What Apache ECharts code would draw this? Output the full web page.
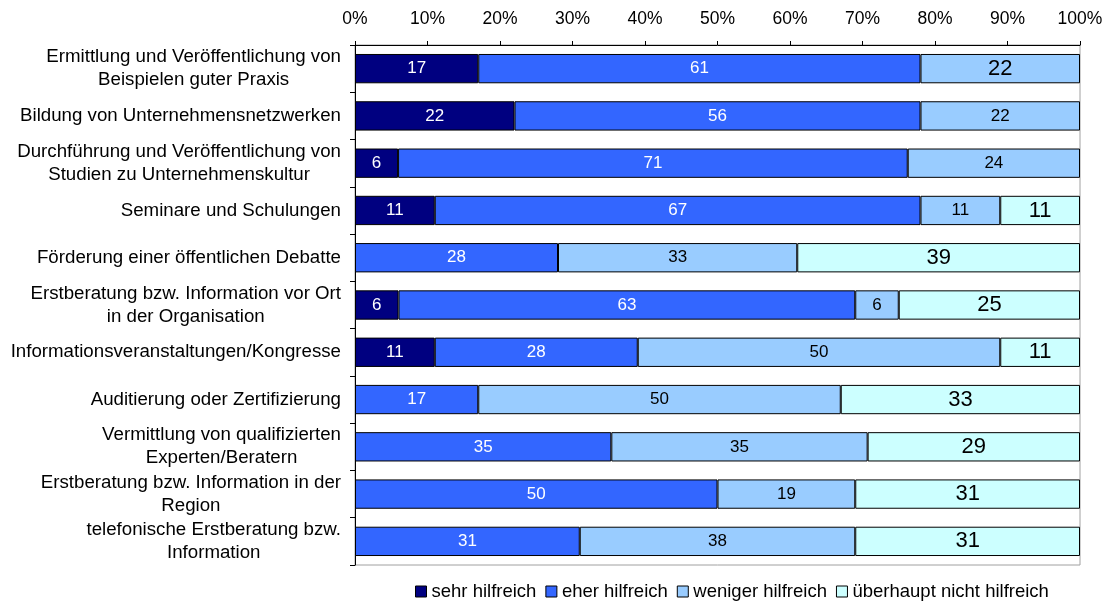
<!DOCTYPE html>
<html><head><meta charset="utf-8">
<script src="https://cdn.jsdelivr.net/npm/echarts@6/dist/echarts.min.js"></script>
<style>html,body{margin:0;padding:0;background:#fff}#c{width:1110px;height:603px}</style>
</head><body><div id="c"></div>
<script>
const categories = [
  "Ermittlung und Veröffentlichung von\nBeispielen guter Praxis",
  "Bildung von Unternehmensnetzwerken",
  "Durchführung und Veröffentlichung von\nStudien zu Unternehmenskultur",
  "Seminare und Schulungen",
  "Förderung einer öffentlichen Debatte",
  "Erstberatung bzw. Information vor Ort\nin der Organisation",
  "Informationsveranstaltungen/Kongresse",
  "Auditierung oder Zertifizierung",
  "Vermittlung von qualifizierten\nExperten/Beratern",
  "Erstberatung bzw. Information in der\nRegion",
  "telefonische Erstberatung bzw.\nInformation"
];
const seriesNames = ["sehr hilfreich","eher hilfreich","weniger hilfreich","überhaupt nicht hilfreich"];
const sehr     = [17, 22, 6, 11, 0, 6, 11, 0, 0, 0, 0];
const eher     = [61, 56, 71, 67, 28, 63, 28, 17, 35, 50, 31];
const weniger  = [22, 22, 24, 11, 33, 6, 50, 50, 35, 19, 38];
const ueberhaupt = [0, 0, 0, 11, 39, 25, 11, 33, 29, 31, 31];
const tickLabels = ["0%","10%","20%","30%","40%","50%","60%","70%","80%","90%","100%"];

const colors = ["#000080","#3366FF","#99CCFF","#CCFFFF"];
const raw = [sehr, eher, weniger, ueberhaupt];
const totals = categories.map((_, i) => raw.reduce((s, a) => s + a[i], 0));

const series = raw.map((arr, si) => ({
  name: seriesNames[si],
  type: 'bar',
  stack: 'all',
  barCategoryGap: '38%',
  itemStyle: { color: colors[si], borderColor: '#000', borderWidth: 1 },
  data: arr.map((v, i) => {
    const d = { value: v === 0 ? null : v / totals[i] * 100, raw: v };
    if (si === 2 && i === 0) d.label = { fontSize: 22 };
    return d;
  }),
  label: {
    show: true,
    position: 'inside',
    fontFamily: 'Liberation Sans',
    fontSize: si === 3 ? 22 : 17,
    color: si < 2 ? '#fff' : '#000',
    formatter: p => p.data.raw
  }
}));

const chart = echarts.init(document.getElementById('c'));
chart.setOption({
  animation: false,
  textStyle: { fontFamily: 'Liberation Sans' },
  legend: {
    top: 577, left: 410,
    itemWidth: 11, itemHeight: 11, itemGap: 9,
    icon: 'rect',
    textStyle: { fontSize: 18.5, color: '#000', fontFamily: 'Liberation Sans' },
    itemStyle: { borderColor: '#000', borderWidth: 1 },
    data: seriesNames
  },
  grid: { left: 355, right: 30, top: 45, bottom: 38, show: true, borderColor: '#a0a0a0', borderWidth: 1 },
  xAxis: {
    type: 'value', position: 'top', min: 0, max: 100, interval: 10,
    axisLine: { show: true, lineStyle: { color: '#000' } },
    axisTick: { show: true, length: 4, lineStyle: { color: '#000' } },
    splitLine: { show: false },
    axisLabel: { fontSize: 17.5, color: '#000', margin: 17, formatter: v => tickLabels[v / 10] }
  },
  yAxis: {
    type: 'category', inverse: true, data: categories,
    axisLine: { show: true, lineStyle: { color: '#000' } },
    axisTick: { show: true, length: 5, lineStyle: { color: '#000' } },
    axisLabel: {
      color: '#000', margin: 14, align: 'right', interval: 0,
      formatter: v => v.split('\n').map(l => '{c|' + l + '}').join('\n'),
      rich: { c: { fontSize: 18.7, lineHeight: 23, align: 'center', color: '#000', fontFamily: 'Liberation Sans' } }
    }
  },
  series
});
</script></body></html>
